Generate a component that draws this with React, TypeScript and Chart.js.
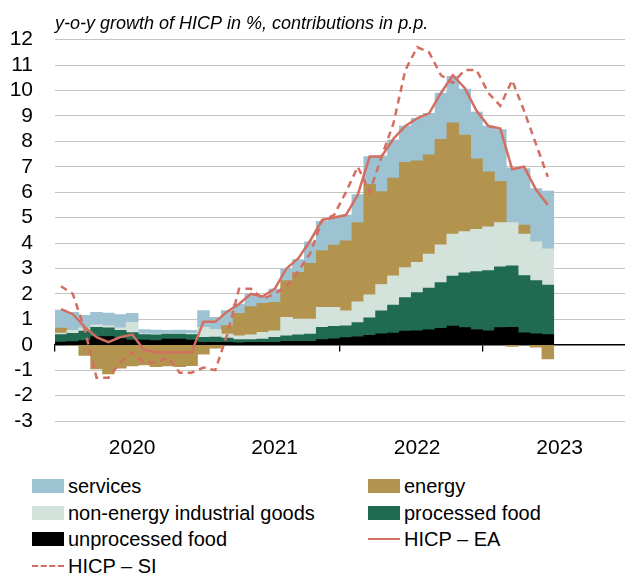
import React, { useEffect, useRef } from "react";
import { Chart, registerables } from "chart.js";

Chart.register(...registerables);

// ---------- data ----------
const years = ["2020", "2021", "2022", "2023"];
const monthCodes = ["01", "02", "03", "04", "05", "06", "07", "08", "09", "10", "11", "12"];
const categories = years.flatMap((y) => monthCodes.map((m) => `${y}-${m}`));

// contributions in p.p., Jan 2020 - Jun 2023
const unprocessedFood = [
  0.10, 0.12, 0.16, 0.32, 0.32, 0.24, 0.18, 0.18, 0.16, 0.22, 0.22, 0.18,
  0.09, 0.09, 0.09, 0.07, 0.09, 0.09, 0.09, 0.13, 0.13, 0.13, 0.20, 0.23,
  0.28, 0.31, 0.37, 0.43, 0.46, 0.54, 0.55, 0.59, 0.64, 0.73, 0.67, 0.60,
  0.55, 0.67, 0.68, 0.47, 0.43, 0.40,
];
const processedFood = [
  0.30, 0.33, 0.38, 0.36, 0.34, 0.33, 0.30, 0.22, 0.23, 0.20, 0.20, 0.22,
  0.20, 0.21, 0.17, 0.13, 0.11, 0.13, 0.20, 0.22, 0.26, 0.29, 0.48, 0.49,
  0.46, 0.56, 0.69, 0.90, 1.10, 1.31, 1.50, 1.64, 1.80, 1.97, 2.16, 2.28,
  2.37, 2.39, 2.42, 2.25, 2.09, 1.95,
];
const nonEnergyIndustrialGoods = [
  0.06, 0.12, 0.12, 0.10, 0.08, 0.09, 0.40, 0.03, 0.03, 0.02, 0.02, 0.05,
  0.39, 0.30, 0.16, 0.15, 0.19, 0.27, 0.26, 0.73, 0.62, 0.59, 0.79, 0.75,
  0.59, 0.82, 0.90, 1.04, 1.15, 1.18, 1.19, 1.33, 1.49, 1.65, 1.62, 1.66,
  1.72, 1.74, 1.70, 1.63, 1.53, 1.42,
];
const energy = [
  0.19, -0.03, -0.42, -0.95, -1.15, -0.92, -0.83, -0.79, -0.86, -0.83, -0.86, -0.82,
  -0.37, -0.14, 0.33, 0.88, 1.11, 1.14, 1.12, 1.44, 1.84, 2.19, 2.23, 2.45,
  2.76, 3.11, 4.35, 3.65, 3.84, 4.14, 3.99, 3.91, 4.15, 4.38, 3.79, 2.77,
  2.16, 1.63, -0.07, 0.36, -0.10, -0.56,
];
const services = [
  0.71, 0.70, 0.50, 0.49, 0.50, 0.53, 0.35, 0.17, 0.16, 0.13, 0.14, 0.12,
  0.66, 0.48, 0.59, 0.37, 0.50, 0.27, 0.52, 0.46, 0.50, 0.85, 1.15, 1.08,
  1.01, 1.10, 1.09, 1.41, 1.50, 1.43, 1.67, 1.63, 1.82, 1.83, 1.81, 1.84,
  1.80, 2.03, 2.16, 2.22, 2.09, 2.27,
];
// y-o-y growth in %
const hicpEA = [
  1.4, 1.2, 0.7, 0.3, 0.1, 0.3, 0.4, -0.2, -0.3, -0.3, -0.3, -0.3,
  0.9, 0.9, 1.3, 1.6, 2.0, 1.9, 2.2, 3.0, 3.4, 4.1, 4.9, 5.0,
  5.1, 5.9, 7.4, 7.4, 8.1, 8.6, 8.9, 9.1, 9.9, 10.6, 10.1, 9.2,
  8.6, 8.5, 6.9, 7.0, 6.1, 5.5,
];
const hicpSI = [
  2.3, 2.0, 0.6, -1.3, -1.3, -0.7, -0.3, -0.7, -0.7, -0.5, -1.1, -1.1,
  -0.9, -1.0, 0.4, 2.2, 2.2, 1.8, 2.0, 2.3, 2.9, 3.6, 4.9, 5.1,
  6.0, 7.0, 6.0, 7.4, 8.7, 10.8, 11.7, 11.5, 10.6, 10.3, 10.8, 10.8,
  9.9, 9.4, 10.4, 9.2, 7.9, 6.6,
];
const yTicks = { min: -3, max: 12, step: 1 };

// ---------- styles ----------
const FONT = "'Liberation Sans', Arial, sans-serif";
const C_SERV = "#9DC3D2";
const C_ENER = "#B3944F";
const C_NEIG = "#D4E2DC";
const C_PROC = "#1F6A51";
const C_UNPR = "#000000";
const C_LINE = "#D36E63";

type LegendItem = { label: string; color: string; kind: "box" | "line" | "dash" };
const legendItems: LegendItem[] = [
  { label: "services", color: C_SERV, kind: "box" },
  { label: "energy", color: C_ENER, kind: "box" },
  { label: "non-energy industrial goods", color: C_NEIG, kind: "box" },
  { label: "processed food", color: C_PROC, kind: "box" },
  { label: "unprocessed food", color: C_UNPR, kind: "box" },
  { label: "HICP – EA", color: C_LINE, kind: "line" },
  { label: "HICP – SI", color: C_LINE, kind: "dash" },
];

export default function App() {
  const ref = useRef<HTMLCanvasElement | null>(null);

  useEffect(() => {
    if (!ref.current) return;
    const bar = (label: string, data: number[], color: string) => ({
      type: "bar" as const,
      label,
      data,
      backgroundColor: color,
      borderWidth: 0,
      xAxisID: "x",
      yAxisID: "y",
      stack: "c",
      order: 1,
      categoryPercentage: 1,
      barPercentage: 1,
    });
    const chart = new Chart(ref.current, {
      type: "bar",
      data: {
        labels: categories,
        datasets: [
          {
            type: "line",
            label: "HICP – EA",
            data: hicpEA,
            borderColor: C_LINE,
            borderWidth: 2.5,
            pointRadius: 0,
            tension: 0,
            fill: false,
            xAxisID: "x",
            yAxisID: "y2",
            order: 0,
          },
          {
            type: "line",
            label: "HICP – SI",
            data: hicpSI,
            borderColor: C_LINE,
            borderWidth: 2.5,
            borderDash: [7, 5],
            pointRadius: 0,
            tension: 0,
            fill: false,
            xAxisID: "x",
            yAxisID: "y2",
            order: 0,
          },
          bar("unprocessed food", unprocessedFood, C_UNPR),
          bar("processed food", processedFood, C_PROC),
          bar("non-energy industrial goods", nonEnergyIndustrialGoods, C_NEIG),
          bar("energy", energy, C_ENER),
          bar("services", services, C_SERV),
        ] as any,
      },
      options: {
        animation: false,
        responsive: false,
        layout: { padding: 0 },
        plugins: {
          legend: { display: false },
          tooltip: { enabled: false },
          title: {
            display: true,
            text: "y-o-y growth of HICP in %, contributions in p.p.",
            align: "start",
            fullSize: false,
            color: "#000",
            font: { family: FONT, size: 18, style: "italic", weight: "normal" },
            padding: { top: 13, bottom: 5 },
          },
        },
        scales: {
          x: {
            type: "category",
            stacked: true,
            offset: true,
            grid: { display: false, drawTicks: false },
            border: { display: false },
            ticks: {
              autoSkip: false,
              maxRotation: 0,
              minRotation: 0,
              padding: 15,
              color: "#000",
              font: { family: FONT, size: 21 },
              callback: (_v: any, i: number) => (i % 12 === 6 ? categories[i].slice(0, 4) : ""),
            },
            afterFit: (s: any) => {
              s.height = 50;
              s.paddingLeft = 0;
              s.paddingRight = 0;
            },
          },
          xZero: {
            type: "category",
            position: { y: 0 },
            offset: true,
            grid: {
              offset: true,
              drawOnChartArea: false,
              drawTicks: true,
              tickLength: 6,
              lineWidth: 1.3,
              color: (ctx: any) => (ctx.index % 12 === 0 ? "#000" : "rgba(0,0,0,0)"),
            },
            border: { display: true, color: "#000", width: 1.5 },
            ticks: { display: false },
            afterFit: (s: any) => {
              s.paddingLeft = 0;
              s.paddingRight = 0;
            },
          },
          y: {
            stacked: true,
            min: yTicks.min,
            max: yTicks.max,
            ticks: {
              stepSize: yTicks.step,
              autoSkip: false,
              padding: 22,
              color: "#000",
              font: { family: FONT, size: 21 },
            },
            grid: { color: "#C4C4C4", lineWidth: 1, drawTicks: false },
            border: { display: false },
            afterFit: (s: any) => {
              s.width = 55;
            },
          },
          y2: { display: false, min: yTicks.min, max: yTicks.max },
        } as any,
      },
    });
    return () => chart.destroy();
  }, []);

  const rowY = [486, 513, 539, 566];
  const colX = [32, 368];

  return (
    <div
      style={{
        position: "fixed",
        left: 0,
        top: 0,
        width: 625,
        height: 576,
        background: "#fff",
        overflow: "hidden",
        fontFamily: FONT,
      }}
    >
      <canvas ref={ref} width={625} height={471} style={{ display: "block", width: 625, height: 471 }} />
      {legendItems.map((it, i) => {
        const col = i % 2;
        const row = Math.floor(i / 2);
        const x = colX[col];
        const y = rowY[row];
        return (
          <div
            key={it.label}
            style={{
              position: "absolute",
              left: x,
              top: y - 13,
              height: 26,
              display: "flex",
              alignItems: "center",
              whiteSpace: "nowrap",
            }}
          >
            {it.kind === "box" ? (
              <span style={{ display: "inline-block", width: 32, height: 14, background: it.color }} />
            ) : (
              <span
                style={{
                  display: "inline-block",
                  width: 32,
                  height: 0,
                  borderTop: `2.5px ${it.kind === "dash" ? "dashed" : "solid"} ${it.color}`,
                }}
              />
            )}
            <span style={{ marginLeft: 4, fontSize: 20, color: "#000", lineHeight: "26px" }}>{it.label}</span>
          </div>
        );
      })}
    </div>
  );
}
